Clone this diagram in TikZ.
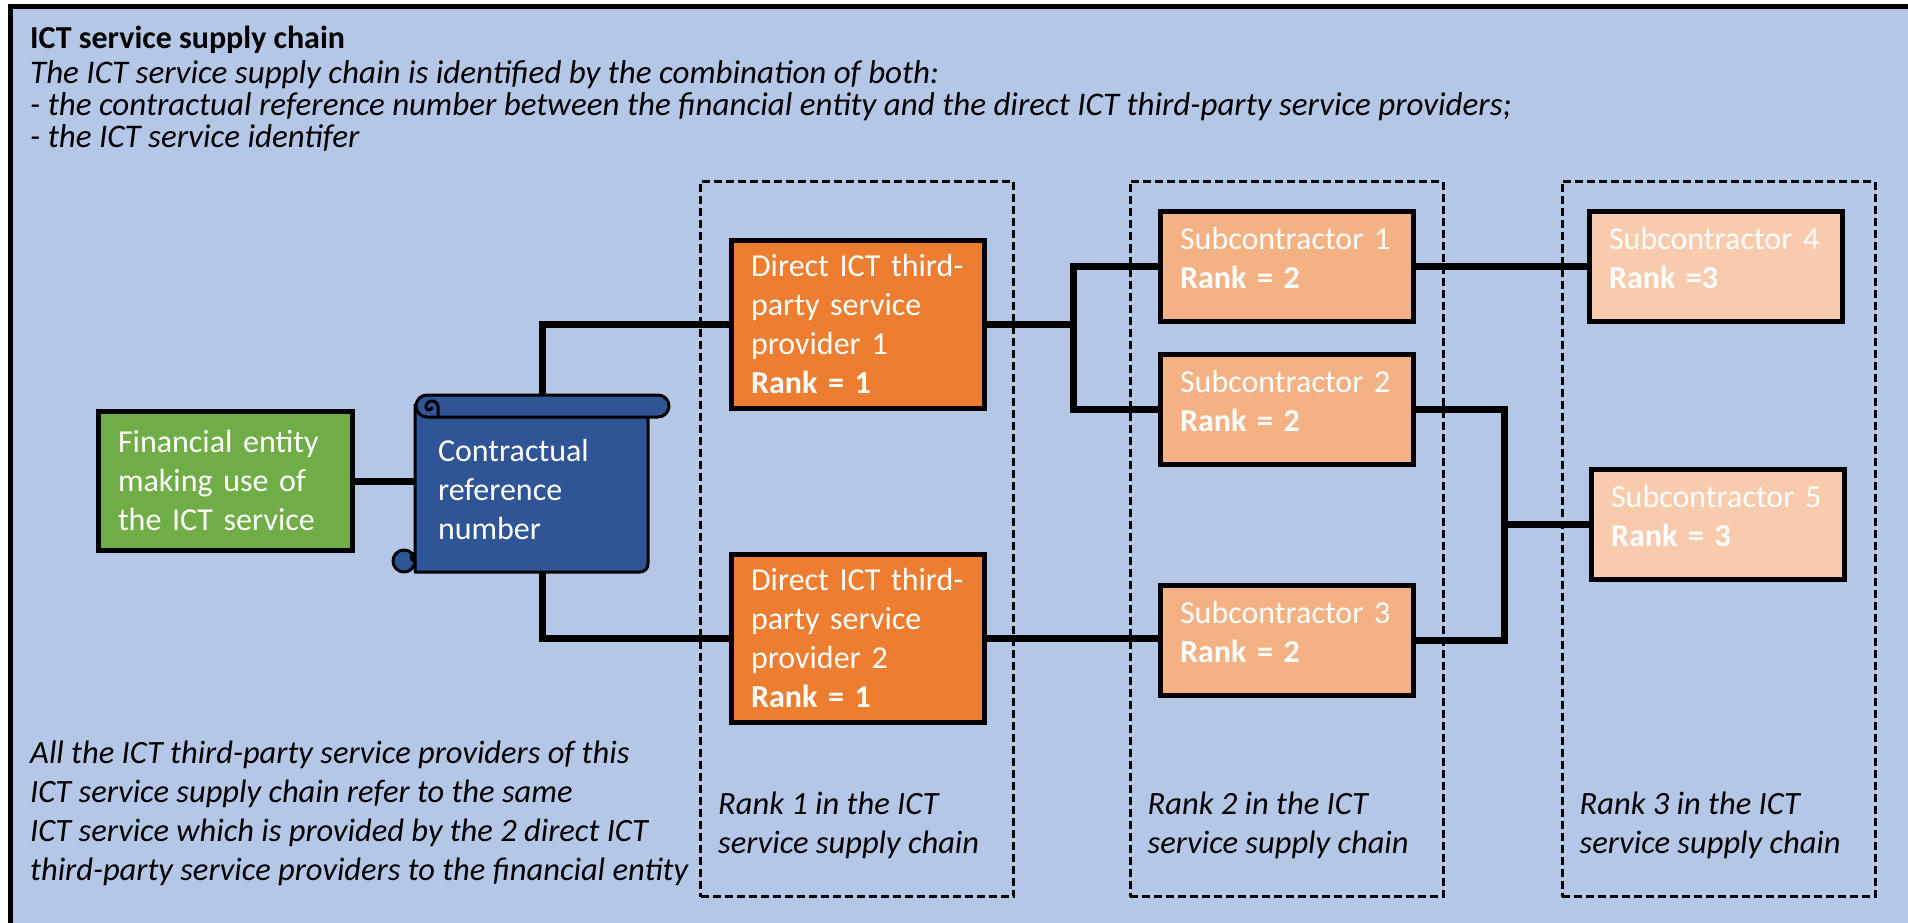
\documentclass[tikz,border=0pt]{standalone}
\usepackage{fontspec}
\setmainfont{Carlito}
\usetikzlibrary{positioning}
\definecolor{slideblue}{HTML}{B4C7E7}
\definecolor{entitygreen}{HTML}{70AD47}
\definecolor{scrollblue}{HTML}{2F5597}
\definecolor{rankone}{HTML}{ED7D31}
\definecolor{ranktwo}{HTML}{F4B183}
\definecolor{rankthree}{HTML}{F8CBAD}
\tikzset{box/.style={draw=black, line width=5pt, fill=#1, text=white, align=left, text width=214pt, inner xsep=19.5pt, inner ysep=0pt, font=\fontsize{32}{39}\selectfont}}
\tikzset{subbox/.style={box=#1, minimum height=110pt, execute at end node={\par\vspace*{16pt}}}}
\tikzset{rankframe/.style={draw=black, line width=3pt, dash pattern=on 8pt off 4pt, minimum width=313pt, minimum height=715pt, inner sep=0pt}}
\tikzset{note/.style={align=left, inner sep=0pt, font=\fontsize{32.5}{39}\selectfont\itshape}}
\tikzset{introline/.style={anchor=base west, inner sep=0pt, font=\fontsize{33}{32}\selectfont\itshape}}
\tikzset{scroll/.style={draw=black, line width=3pt, fill=scrollblue, line join=round}}
\tikzset{link/.style={draw=black, line width=7pt}}

\begin{document}
\begin{tikzpicture}[x=1pt, y=1pt]
\useasboundingbox (0,0) rectangle (1908,-923);
\clip (0,0) rectangle (1908,-923);
\fill[slideblue] (10,-7) rectangle (1915,-930);
\draw[line width=5pt] (10,-930) -- (10,-7) -- (1915,-7);

% heading
\node[anchor=north west, inner sep=0pt, font=\fontsize{32}{39}\selectfont\bfseries] (title) at (30,-26) {ICT service supply chain};
\node[introline] (intro1) at ([yshift=-35pt]title.base west) {The ICT service supply chain is identified by the combination of both:};
\node[introline] (intro2) at ([yshift=-32pt]intro1.base west) {- the contractual reference number between the financial entity and the direct ICT third-party service providers;};
\node[introline] (intro3) at ([yshift=-32pt]intro2.base west) {- the ICT service identifer};

% rank columns
\node[rankframe] (r1) at (857,-539) {};
\node[rankframe] (r2) at (1286.5,-539) {};
\node[rankframe] (r3) at (1718.5,-539) {};
\node[note, above right=39pt and 19pt of r1.south west] (r1text) {Rank 1 in the ICT\\service supply chain};
\node[note, above right=39pt and 19pt of r2.south west] (r2text) {Rank 2 in the ICT\\service supply chain};
\node[note, above right=39pt and 19pt of r3.south west] (r3text) {Rank 3 in the ICT\\service supply chain};

% scroll
\filldraw[scroll] (415,-405) -- (415,-572) -- (640,-572) arc[start angle=270, end angle=360, radius=8] -- (648,-415) -- cycle;
\filldraw[scroll] (427,-395) -- (658,-395) arc[start angle=90, end angle=-90, radius=11] -- (427,-417) arc[start angle=270, end angle=90, radius=11] -- cycle;
\draw[scroll, fill=none] (438,-417) -- (438,-407) arc[start angle=0, end angle=180, radius=6] arc[start angle=180, end angle=360, radius=3];
\filldraw[scroll] (404,-561) circle[radius=11];
\draw[scroll, fill=none] (415,-553) arc[start angle=90, end angle=270, radius=4];

\node[box=entitygreen, text width=215pt, minimum height=139pt] (fin) at (225.5,-481) {Financial entity\\making use of\\the ICT service};
\node[align=left, text=white, text width=187pt, inner xsep=23pt, inner ysep=0pt, minimum height=165pt, font=\fontsize{32}{39}\selectfont] (contract) at (531.5,-489.5) {Contractual\\reference\\number};

\node[box=rankone, minimum height=168pt] (d1) at (858,-324) {Direct ICT third-\\party service\\provider 1\\\textbf{Rank = 1}};
\node[box=rankone, minimum height=168pt, below=141pt of d1] (d2) {Direct ICT third-\\party service\\provider 2\\\textbf{Rank = 1}};

\node[subbox=ranktwo] (s1) at (1287,-266.5) {Subcontractor 1\\\textbf{Rank = 2}};
\node[subbox=ranktwo, below=28pt of s1] (s2) {Subcontractor 2\\\textbf{Rank = 2}};
\node[subbox=ranktwo] (s3) at (1287,-640) {Subcontractor 3\\\textbf{Rank = 2}};
\node[subbox=rankthree, right=171pt of s1] (s4) {Subcontractor 4\\\textbf{Rank =3}};
\node[subbox=rankthree] (s5) at (1718,-524.5) {Subcontractor 5\\\textbf{Rank = 3}};

% links
\coordinate (j1) at ([xshift=86pt]d1.east);
\coordinate (j2) at ([xshift=88pt]s2.east);
\draw[link] (fin.east) -- (fin.east -| contract.west);
\draw[link] (d1.west) -| ([xshift=10.5pt, yshift=12pt]contract.north);
\draw[link] (d2.west) -| ([xshift=10.5pt]contract.south);
\draw[link] (d1.east) -- (j1);
\draw[link] (s1.west) -| (j1) |- (s2.west);
\draw[link] (d2.east) -- (d2.east -| s3.west);
\draw[link] (s1.east) -- (s4.west);
\draw[link] (s2.east) -- (j2) |- (s3.east);
\draw[link] (j2 |- s5.west) -- (s5.west);

\node[note, anchor=north west] (footnote) at (30,-741) {All the ICT third-party service providers of this\\ICT service supply chain refer to the same\\ICT service which is provided by the 2 direct ICT\\third-party service providers to the financial entity};
\end{tikzpicture}
\end{document}
